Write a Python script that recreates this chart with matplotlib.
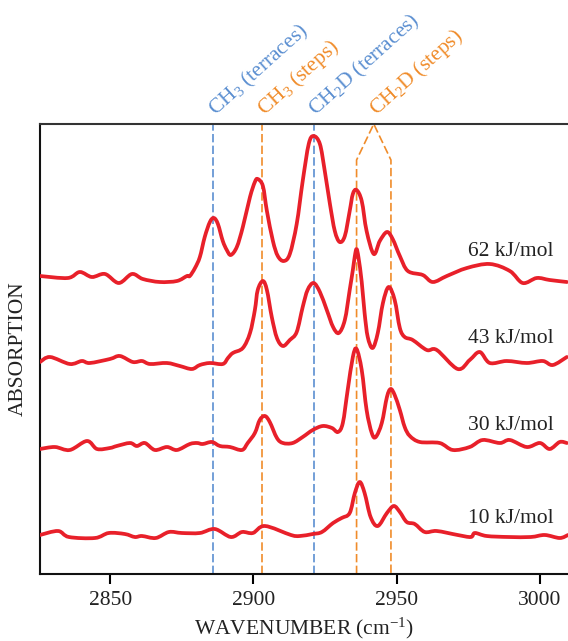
import numpy as np
import matplotlib.pyplot as plt
from matplotlib.path import Path
from matplotlib.patches import PathPatch

plt.rcParams['font.family'] = ['Liberation Serif', 'DejaVu Serif']
plt.rcParams['mathtext.default'] = 'regular'

# spectra: wavenumber (cm-1) and absorption (arb. units above each baseline)
wn_62 = [2825.5, 2835.2, 2839.4, 2843.6, 2848.2, 2853.0, 2857.6, 2861.4, 2867.3, 2873.3,
         2876.8, 2877.8, 2879.6, 2881.3, 2883.0, 2884.8, 2886.2, 2887.6, 2889.3, 2890.7,
         2892.1, 2894.2, 2896.3, 2898.8, 2900.5, 2901.5, 2903.3, 2904.7, 2906.8, 2908.5,
         2910.6, 2912.7, 2915.1, 2917.2, 2919.3, 2921.0, 2923.2, 2924.9, 2926.7, 2928.4,
         2930.1, 2931.9, 2933.6, 2934.7, 2936.0, 2937.8, 2939.5, 2942.0, 2944.1, 2946.6,
         2948.6, 2951.1, 2953.9, 2959.1, 2962.6, 2967.5, 2974.5, 2982.5, 2989.5, 2994.0,
         2998.9, 3003.4, 3009.4]
ab_62 = [2, 0, 6, 1, 4, -5, 4, -1, -4, -3,
         2, 2, 10, 21, 41, 56, 60, 54, 37, 28,
         23, 31, 51, 81, 96, 99, 92, 67, 37, 22,
         17, 24, 54, 97, 134, 142, 134, 107, 74, 47,
         36, 42, 67, 84, 88, 77, 47, 24, 37, 46,
         39, 22, 7, 3, -4, 2, 10, 14, 7, -5,
         0, -2, -4]

wn_43 = [2825.5, 2829.0, 2835.9, 2840.1, 2842.9, 2849.9, 2853.4, 2857.9, 2861.1, 2863.9,
         2869.8, 2874.3, 2878.5, 2881.3, 2884.8, 2889.3, 2891.1, 2892.8, 2896.3, 2898.8,
         2900.5, 2901.5, 2903.3, 2904.7, 2906.4, 2908.2, 2910.3, 2912.7, 2915.1, 2917.2,
         2918.9, 2921.0, 2923.2, 2925.6, 2927.8, 2929.8, 2931.9, 2933.6, 2934.7, 2935.4,
         2936.0, 2936.7, 2937.8, 2938.8, 2939.9, 2941.6, 2943.4, 2945.2, 2947.2, 2949.3,
         2951.1, 2952.8, 2955.6, 2960.5, 2964.0, 2971.3, 2975.5, 2979.0, 2982.5, 2988.4,
         2995.4, 3001.0, 3004.5, 3009.4]
ab_43 = [0, 5, -2, 1, -1, 3, 6, 0, 1, -2,
         -1, -4, -7, -3, -1, -2, 4, 9, 14, 29,
         52, 72, 81, 72, 45, 24, 16, 22, 30, 55,
         72, 79, 70, 52, 35, 29, 42, 72, 92, 106,
         113, 104, 80, 49, 25, 14, 29, 59, 75, 62,
         34, 25, 22, 12, 12, -7, 2, 10, -1, 1,
         -1, 1, -3, 5]

wn_30 = [2825.5, 2830.7, 2835.9, 2841.9, 2845.4, 2849.9, 2852.3, 2856.9, 2859.3, 2862.1,
         2865.6, 2869.8, 2873.3, 2877.8, 2880.3, 2882.3, 2885.5, 2888.3, 2891.8, 2896.0,
         2898.0, 2900.5, 2902.2, 2904.0, 2905.7, 2908.2, 2910.3, 2913.7, 2917.2, 2920.7,
         2924.2, 2927.4, 2929.5, 2931.2, 2932.9, 2934.7, 2936.0, 2937.8, 2939.5, 2941.3,
         2942.7, 2944.8, 2946.6, 2947.9, 2949.3, 2951.1, 2952.8, 2954.6, 2958.1, 2965.0,
         2969.6, 2975.5, 2980.0, 2986.0, 2989.5, 2995.4, 3000.0, 3003.4, 3006.9, 3009.4]
ab_30 = [-2, 0, -3, 6, -2, -1, 1, 4, 1, 4,
         -3, 0, -3, 3, 4, 3, 5, 1, 0, -3,
         4, 14, 27, 31, 25, 9, 4, 4, 10, 17,
         21, 19, 15, 24, 57, 90, 98, 77, 37, 14,
         10, 24, 50, 58, 52, 37, 20, 11, 5, 4,
         -3, 0, 7, 4, 7, 0, 4, -2, 5, 4]

wn_10 = [2825.5, 2831.8, 2835.6, 2844.7, 2849.5, 2855.1, 2858.6, 2861.1, 2865.9, 2870.5,
         2875.0, 2881.3, 2886.5, 2892.1, 2896.0, 2899.8, 2904.0, 2913.1, 2916.2, 2920.7,
         2923.9, 2927.8, 2930.8, 2933.6, 2935.4, 2937.1, 2938.8, 2940.9, 2943.4, 2946.6,
         2949.0, 2951.1, 2953.5, 2956.3, 2959.8, 2964.0, 2971.3, 2975.9, 2977.3, 2981.4,
         2989.1, 2996.8, 3001.7, 3006.9, 3009.8]
ab_10 = [0, 4, -2, -3, 2, 1, -2, -1, -3, 3,
         2, 2, 6, -2, 3, 2, 9, 0, -1, 1,
         3, 12, 17, 22, 42, 53, 42, 18, 9, 22,
         29, 23, 13, 11, 3, 4, 0, -2, 2, -1,
         -2, -2, 0, -3, 0]

energies = ['62 kJ/mol', '43 kJ/mol', '30 kJ/mol', '10 kJ/mol']
offsets = [296, 212, 127, 39]
label_y = [318, 231, 144, 51]

# band assignments
band_pos = [2886, 2903, 2921, 2936, 2948]
band_labels = ['CH$_3$ (terraces)', 'CH$_3$ (steps)', 'CH$_2$D (terraces)', 'CH$_2$D (steps)']
blue = '#5b8fd1'
orange = '#f08c2a'
red = '#e8202a'


def smooth_path(x, y):
    # draw the measured points joined by Catmull-Rom style bezier segments
    pts = np.column_stack([x, y])
    n = len(pts)
    verts = [pts[0]]
    codes = [Path.MOVETO]
    for i in range(n - 1):
        p0 = pts[max(i - 1, 0)]
        p1 = pts[i]
        p2 = pts[i + 1]
        p3 = pts[min(i + 2, n - 1)]
        verts += [p1 + (p2 - p0) / 6, p2 - (p3 - p1) / 6, p2]
        codes += [Path.CURVE4] * 3
    return Path(verts, codes)


fig = plt.figure(figsize=(5.68, 6.41), dpi=100)
ax = fig.add_axes([40/568, 1 - 574/641, 528/568, 450/641])

ymax = 450
kw = dict(lw=1.2, dashes=(5, 2), zorder=1)
ax.plot([band_pos[0]] * 2, [0, ymax], color=blue, **kw)
ax.plot([band_pos[1]] * 2, [0, ymax], color=orange, **kw)
ax.plot([band_pos[2]] * 2, [0, ymax], color=blue, **kw)
# CH2D steps doublet joined at an apex
apex = (band_pos[3] + band_pos[4]) / 2
ax.plot([band_pos[3], band_pos[3], apex, band_pos[4], band_pos[4]],
        [0, 414, ymax, 414, 0], color=orange, clip_on=False, **kw)

spectra = [(wn_62, ab_62), (wn_43, ab_43), (wn_30, ab_30), (wn_10, ab_10)]
for (wn, ab), off, name, ly in zip(spectra, offsets, energies, label_y):
    patch = PathPatch(smooth_path(wn, np.array(ab) + off), fill=False,
                      edgecolor=red, lw=2.7, capstyle='round', joinstyle='round', zorder=3)
    ax.add_patch(patch)
    ax.text(2975, ly, name, fontsize=15.5, color='#222222', va='baseline', ha='left')

# rotated band labels above the frame
lab_x = [band_pos[0], band_pos[1], band_pos[2], apex]
lab_c = [blue, orange, blue, orange]
for x, txt, c in zip(lab_x, band_labels, lab_c):
    ax.text(x + 0.8, 458, txt, color=c, fontsize=15.5, rotation=42,
            rotation_mode='anchor', ha='left', va='baseline', clip_on=False)

ax.set_xlim(2825.5, 3009.8)
ax.set_ylim(0, ymax)
ax.set_xticks([2850, 2900, 2950, 3000])
ax.set_yticks([])
ax.tick_params(axis='x', length=7, width=1.5, pad=5, labelsize=15.5, labelcolor='#222222')
ax.spines['right'].set_visible(False)
for s in ['left', 'bottom']:
    ax.spines[s].set_linewidth(1.5)
    ax.spines[s].set_color('#111111')
ax.spines['top'].set_linewidth(1.5)
ax.spines['top'].set_color('#333333')

fig.text(304/568, 1 - 634/641, 'WAVENUMBER (cm$^{-1}$)', fontsize=15.5,
         ha='center', va='baseline', color='#222222')
fig.text(18/568, 1 - 349/641, 'ABSORPTION', fontsize=15.5, rotation=90,
         ha='center', va='center', color='#222222')

fig.savefig('out.png', dpi=100)
